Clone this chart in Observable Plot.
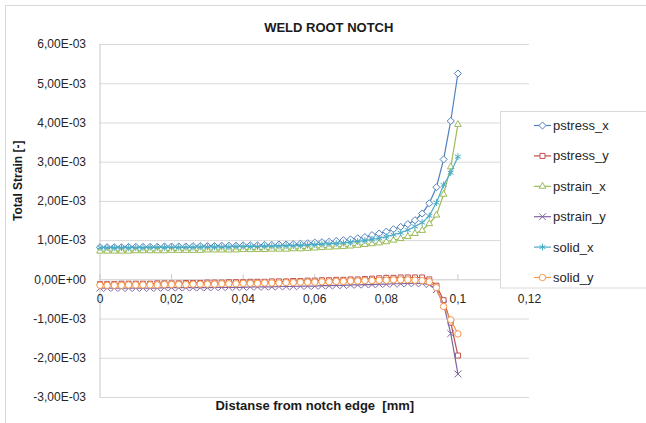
<!DOCTYPE html>
<html>
<head>
<meta charset="utf-8">
<script src="https://cdn.jsdelivr.net/npm/d3@7"></script>
<script src="https://cdn.jsdelivr.net/npm/@observablehq/plot@0.6"></script>
<style>
  html, body { margin: 0; padding: 0; background: #fff; }
  #chart { position: relative; width: 646px; height: 423px; overflow: hidden; }
</style>
</head>
<body>
<div id="chart"></div>
<script>
// ---- Data (strain values in units of 1E-03) ----
const distance = [0,0.002,0.004,0.006,0.008,0.010,0.012,0.014,0.016,0.018,0.020,
  0.022,0.024,0.026,0.028,0.030,0.032,0.034,0.036,0.038,0.040,
  0.042,0.044,0.046,0.048,0.050,0.052,0.054,0.056,0.058,0.060,
  0.062,0.064,0.066,0.068,0.070,0.072,0.074,0.076,0.078,0.080,
  0.082,0.084,0.086,0.088,0.090,0.092,0.094,0.096,0.098,0.100];

const pstress_x = [0.83,0.83,0.83,0.83,0.84,0.84,0.84,0.84,0.84,0.85,0.85,
  0.85,0.85,0.86,0.86,0.86,0.86,0.87,0.87,0.87,0.88,
  0.88,0.88,0.89,0.89,0.90,0.90,0.91,0.92,0.93,0.95,
  0.96,0.97,0.99,1.01,1.03,1.06,1.09,1.14,1.18,1.23,
  1.29,1.35,1.42,1.52,1.69,1.95,2.36,3.07,4.05,5.26];

const pstress_y = [-0.11,-0.11,-0.11,-0.10,-0.10,-0.10,-0.10,-0.10,-0.09,-0.09,-0.09,
  -0.09,-0.08,-0.08,-0.08,-0.07,-0.07,-0.07,-0.06,-0.06,-0.06,
  -0.05,-0.05,-0.05,-0.04,-0.04,-0.04,-0.03,-0.03,-0.02,-0.02,
  -0.01,-0.01,0.00,0.00,0.01,0.01,0.02,0.03,0.04,0.05,
  0.05,0.06,0.06,0.06,0.06,0.01,-0.15,-0.52,-1.09,-1.93];

const pstrain_x = [0.73,0.73,0.73,0.73,0.73,0.74,0.74,0.74,0.74,0.74,0.75,
  0.75,0.75,0.75,0.75,0.76,0.76,0.76,0.76,0.76,0.77,
  0.77,0.77,0.77,0.78,0.78,0.78,0.79,0.79,0.80,0.81,
  0.82,0.83,0.84,0.85,0.86,0.88,0.90,0.92,0.94,0.97,
  1.01,1.05,1.10,1.18,1.26,1.43,1.65,2.18,2.88,3.96];

const pstrain_y = [-0.21,-0.21,-0.21,-0.21,-0.21,-0.21,-0.21,-0.21,-0.21,-0.20,-0.20,
  -0.20,-0.20,-0.20,-0.20,-0.20,-0.19,-0.19,-0.19,-0.19,-0.19,
  -0.18,-0.18,-0.18,-0.18,-0.17,-0.17,-0.17,-0.16,-0.16,-0.16,
  -0.15,-0.15,-0.14,-0.14,-0.13,-0.13,-0.12,-0.12,-0.11,-0.11,
  -0.10,-0.10,-0.09,-0.09,-0.09,-0.12,-0.25,-0.62,-1.37,-2.40];

const solid_x = [0.82,0.82,0.82,0.82,0.82,0.82,0.82,0.83,0.83,0.83,0.83,
  0.83,0.83,0.83,0.84,0.84,0.84,0.84,0.84,0.85,0.85,
  0.85,0.85,0.86,0.86,0.86,0.87,0.87,0.88,0.89,0.90,
  0.91,0.92,0.93,0.94,0.96,0.98,1.00,1.03,1.06,1.10,
  1.15,1.20,1.27,1.36,1.46,1.63,1.97,2.42,2.73,3.14];

const solid_y = [-0.14,-0.14,-0.14,-0.14,-0.13,-0.13,-0.13,-0.13,-0.13,-0.12,-0.12,
  -0.12,-0.12,-0.11,-0.11,-0.11,-0.11,-0.10,-0.10,-0.10,-0.09,
  -0.09,-0.09,-0.08,-0.08,-0.08,-0.07,-0.07,-0.06,-0.06,-0.06,
  -0.05,-0.05,-0.04,-0.04,-0.03,-0.03,-0.02,-0.02,-0.01,-0.01,
  0.00,0.00,0.00,-0.01,-0.02,-0.05,-0.20,-0.68,-1.02,-1.38];

const seriesNames = ["pstress_x","pstress_y","pstrain_x","pstrain_y","solid_x","solid_y"];
const seriesValues = [pstress_x, pstress_y, pstrain_x, pstrain_y, solid_x, solid_y];
const seriesColors = ["#4f81bd","#c0504d","#9bbb59","#8064a2","#4bacc6","#f79646"];
const seriesSymbols = ["diamond2","square2","triangle2","times","asterisk","circle"];

const yTicks = [-3,-2,-1,0,1,2,3,4,5,6];
const yTickLabels = ["-3,00E-03","-2,00E-03","-1,00E-03","0,00E+00","1,00E-03","2,00E-03","3,00E-03","4,00E-03","5,00E-03","6,00E-03"];
const xTicks = [0,0.02,0.04,0.06,0.08,0.1,0.12];
const xTickLabels = ["0","0,02","0,04","0,06","0,08","0,1","0,12"];

const chartTitle = "WELD ROOT NOTCH";
const xTitle = "Distanse from notch edge  [mm]";
const yTitle = "Total Strain [-]";

// ---- Build ----
const rows = seriesNames.map((name, k) =>
  distance.map((x, i) => ({series: name, x, y: seriesValues[k][i]})));

const seriesMarks = [];
seriesNames.forEach((name, k) => {
  seriesMarks.push(Plot.line(rows[k], {x: "x", y: "y", stroke: seriesColors[k], strokeWidth: 1.2}));
  const filled = !["times","asterisk"].includes(seriesSymbols[k]);
  seriesMarks.push(Plot.dot(rows[k], {x: "x", y: "y", symbol: seriesSymbols[k], r: 3.2,
    stroke: seriesColors[k], strokeWidth: 1, fill: filled ? "white" : "none"}));
});

const plot = Plot.plot({
  width: 646, height: 423,
  marginLeft: 99.5, marginRight: 117, marginTop: 44, marginBottom: 26,
  style: {fontFamily: "'Liberation Sans', Arial, sans-serif", fontSize: "12px", color: "#262626", background: "white"},
  x: {domain: [0, 0.12], axis: null},
  y: {domain: [-3, 6], axis: null},
  marks: [
    Plot.ruleY(yTicks.filter(d => d !== 0), {stroke: "#d9d9d9", strokeWidth: 1}),
    Plot.ruleX([0], {stroke: "#c8c8c8", strokeWidth: 1}),
    Plot.ruleY([0], {stroke: "#c8c8c8", strokeWidth: 1}),
    Plot.ruleX(xTicks, {x: d => d, y1: 0, y2: 0.13, stroke: "#c8c8c8"}),
    Plot.axisY({ticks: yTicks, tickFormat: (d, i) => yTickLabels[yTicks.indexOf(d)], tickSize: 0, tickPadding: 14, fontSize: 12, label: null}),
    Plot.text(xTicks, {x: d => d, y: 0, text: (d, i) => xTickLabels[i], dy: 19, fontSize: 12, fill: "#262626"}),
    Plot.text([chartTitle], {frameAnchor: "top", dy: -22, dx: 14, fontWeight: "bold", fontSize: 13, fill: "#1a1a1a"}),
    Plot.text([xTitle], {frameAnchor: "bottom", dy: 12, fontWeight: "bold", fontSize: 13, fill: "#1a1a1a"}),
    Plot.text([yTitle], {frameAnchor: "left", dx: -81.5, rotate: -90, fontWeight: "bold", fontSize: 12, fill: "#1a1a1a"}),
    ...seriesMarks
  ]
});

document.getElementById("chart").appendChild(plot);

// ---- Outer border and legend ----
const svg = d3.select(plot);
svg.append("rect").attr("x", 5.5).attr("y", 5.5).attr("width", 700).attr("height", 500)
  .attr("fill", "none").attr("stroke", "#d9d9d9");

const lg = svg.append("g").attr("text-anchor", "start");
lg.append("rect").attr("x", 500.5).attr("y", 111.5).attr("width", 160).attr("height", 176.5)
  .attr("fill", "white").attr("stroke", "#d9d9d9");
const symMap = {diamond2: d3.symbolDiamond2, square2: d3.symbolSquare2, triangle2: d3.symbolTriangle2,
  times: d3.symbolTimes, asterisk: d3.symbolAsterisk, circle: d3.symbolCircle};
seriesNames.forEach((name, k) => {
  const y = 125.5 + k * 30.4;
  const g = lg.append("g");
  g.append("line").attr("x1", 534).attr("x2", 551).attr("y1", y).attr("y2", y)
    .attr("stroke", seriesColors[k]).attr("stroke-width", 1.2);
  const filled = !["times","asterisk"].includes(seriesSymbols[k]);
  g.append("path").attr("transform", `translate(542.5,${y})`)
    .attr("d", d3.symbol(symMap[seriesSymbols[k]], Math.PI * 3.2 * 3.2)())
    .attr("fill", filled ? "white" : "none").attr("stroke", seriesColors[k]).attr("stroke-width", 1);
  g.append("text").attr("x", 553).attr("y", y).attr("dy", "0.35em")
    .attr("text-anchor", "start").attr("font-size", 13).attr("fill", "#262626").text(name);
});
</script>
</body>
</html>
